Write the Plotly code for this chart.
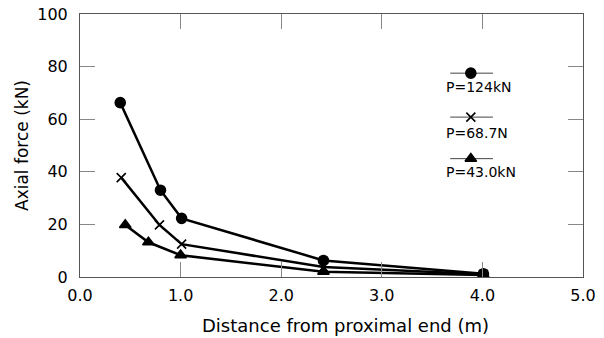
import plotly.graph_objects as go

# Data
dist_124 = [0.40, 0.80, 1.01, 2.42, 4.01]
force_124 = [66.3, 33.0, 22.3, 6.3, 1.2]
dist_687 = [0.41, 0.79, 1.01, 2.42, 4.01]
force_687 = [37.8, 19.8, 12.5, 3.8, 1.0]
dist_430 = [0.45, 0.68, 1.00, 2.42, 4.01]
force_430 = [19.8, 13.2, 8.3, 2.0, 0.8]

series_names = ["P=124kN", "P=68.7N", "P=43.0kN"]
symbols = ["circle", "x-thin-open", "triangle-up"]
x_ticks = [0, 1, 2, 3, 4, 5]
x_tick_labels = ["0.0", "1.0", "2.0", "3.0", "4.0", "5.0"]
y_ticks = [0, 20, 40, 60, 80, 100]
x_title = "Distance from proximal end (m)"
y_title = "Axial force (kN)"

FONT = "DejaVu Sans, Verdana, sans-serif"

fig = go.Figure()
data = [(dist_124, force_124), (dist_687, force_687), (dist_430, force_430)]
sizes = [10, 9, 10]
for (xs, ys), name, sym, sz in zip(data, series_names, symbols, sizes):
    fig.add_trace(go.Scatter(
        x=xs, y=ys, mode="lines+markers", name=name,
        line=dict(color="black", width=2.5),
        marker=dict(symbol=sym, size=sz, color="black",
                    line=dict(color="black", width=1.6)),
        showlegend=False,
    ))

# Custom legend (drawn on an auxiliary 0..1 axis pair)
leg_y = [0.775, 0.608, 0.45]
txt_y = [0.722, 0.549, 0.40]
for name, sym, sz, ly, ty in zip(series_names, symbols, sizes, leg_y, txt_y):
    fig.add_trace(go.Scatter(
        x=[0.736, 0.778, 0.821], y=[ly, ly, ly], mode="lines",
        line=dict(color="#444", width=1),
        xaxis="x2", yaxis="y2", showlegend=False, hoverinfo="skip",
    ))
    fig.add_trace(go.Scatter(
        x=[0.777], y=[ly], mode="markers",
        marker=dict(symbol=sym, size=sz, color="black",
                    line=dict(color="black", width=1.6)),
        xaxis="x2", yaxis="y2", showlegend=False, hoverinfo="skip",
    ))
    fig.add_annotation(
        x=0.724, y=ty, xref="x2", yref="y2", text=name, xanchor="left",
        showarrow=False, font=dict(size=14, color="black", family=FONT),
    )

# x-axis title
fig.add_annotation(
    x=0.527, y=-0.183, xref="paper", yref="paper", text=x_title,
    showarrow=False, xanchor="center", yanchor="middle",
    font=dict(size=18, color="black", family=FONT),
)

axis_style = dict(
    showline=True, linecolor="#555", linewidth=1, mirror="allticks",
    ticks="inside", ticklen=15, tickcolor="#888", tickwidth=1,
    showgrid=False, zeroline=False, automargin=False,
    tickfont=dict(size=16, color="black", family=FONT),
)

fig.update_layout(
    width=604, height=338,
    margin=dict(l=80, r=21, t=14, b=61),
    paper_bgcolor="white", plot_bgcolor="white",
    xaxis=dict(range=[0, 5], tickvals=x_ticks, ticktext=x_tick_labels,
               ticklabelstandoff=4, **axis_style),
    yaxis=dict(range=[0, 100], tickvals=y_ticks, ticklabelstandoff=8,
               title=dict(text=y_title,
                          font=dict(size=17, color="black", family=FONT),
                          standoff=4),
               **axis_style),
    xaxis2=dict(range=[0, 1], overlaying="x", visible=False),
    yaxis2=dict(range=[0, 1], overlaying="y", visible=False),
)

fig.write_html("out.html")
